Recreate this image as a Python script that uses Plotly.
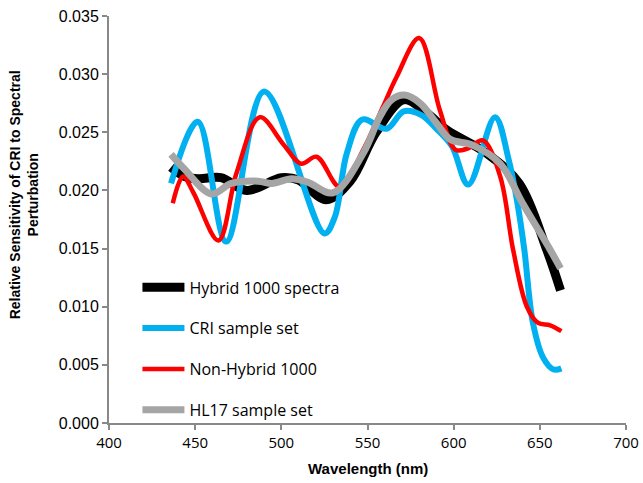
import plotly.graph_objects as go

# Wavelength (nm) / sensitivity values
hybrid_x = [436, 444, 452, 465, 480, 500, 510, 526, 540, 555, 571, 584, 596, 619, 638, 654, 662]
hybrid_y = [0.0220, 0.0212, 0.0210, 0.0211, 0.0200, 0.0211, 0.0209, 0.0192, 0.0208, 0.0250, 0.0278, 0.0267, 0.0252, 0.0232, 0.0206, 0.0149, 0.0114]

cri_x = [436, 451.5, 468, 490, 525, 531, 538, 547, 561, 571, 581, 590, 599, 608.5, 624, 632, 637, 641, 646, 652, 658, 662.5]
cri_y = [0.0206, 0.0259, 0.0156, 0.0285, 0.0163, 0.0177, 0.0232, 0.0261, 0.0253, 0.0268, 0.0265, 0.0253, 0.0238, 0.0205, 0.0263, 0.0226, 0.0189, 0.0149, 0.0086, 0.0056, 0.0046, 0.0047]

nonhybrid_x = [437, 443, 449, 463.5, 474, 487.5, 501, 511.5, 520.5, 534, 547.5, 559, 567, 580, 592, 601, 608, 617, 627, 634.5, 642.5, 649, 656, 662.5]
nonhybrid_y = [0.0189, 0.0212, 0.0198, 0.0157, 0.0215, 0.0263, 0.0240, 0.0223, 0.0229, 0.0203, 0.0235, 0.0272, 0.0298, 0.0331, 0.0269, 0.0235, 0.0236, 0.0243, 0.0212, 0.0149, 0.0100, 0.0086, 0.0084, 0.0079]

hl17_x = [436, 444, 459.5, 471, 486.5, 494.5, 506, 515.5, 530, 547.5, 557, 564, 571.5, 580.5, 590, 598, 611, 627, 640, 656, 662]
hl17_y = [0.0231, 0.0218, 0.0197, 0.0206, 0.0208, 0.0206, 0.0210, 0.0207, 0.0198, 0.0232, 0.0263, 0.0278, 0.0282, 0.0275, 0.0258, 0.0244, 0.0239, 0.0223, 0.0189, 0.0149, 0.0133]

series = [
    ("Hybrid 1000 spectra", hybrid_x, hybrid_y, "#000000", 9),
    ("CRI sample set", cri_x, cri_y, "#00B0F0", 6),
    ("Non-Hybrid 1000", nonhybrid_x, nonhybrid_y, "#FF0000", 4.5),
    ("HL17 sample set", hl17_x, hl17_y, "#A5A5A5", 7),
]

fig = go.Figure()
for i, (name, xs, ys, color, w) in enumerate(series):
    fig.add_trace(go.Scatter(
        x=xs, y=ys, name=name, mode="lines",
        line=dict(color=color, width=w, shape="spline", smoothing=1.0),
        legendgroup=f"g{i}",
    ))

axis_color = "#898989"
fig.update_layout(
    width=643, height=483,
    margin=dict(l=109, r=17, t=16, b=60),
    paper_bgcolor="white", plot_bgcolor="white",
    showlegend=True,
    legend=dict(
        x=0.055, y=0.375, xanchor="left", yanchor="top",
        bgcolor="rgba(0,0,0,0)",
        font=dict(family="Open Sans", size=16, color="#000000"),
        tracegroupgap=17,
        itemwidth=42,
    ),
    xaxis=dict(
        range=[400, 700], dtick=50, tick0=400, automargin=False,
        showline=True, linecolor=axis_color, linewidth=2,
        ticks="outside", ticklen=5, tickwidth=2, tickcolor=axis_color,
        showgrid=False, zeroline=False,
        tickfont=dict(family="Open Sans", size=15, color="#000000"),
    ),
    yaxis=dict(
        range=[0, 0.035], dtick=0.005, tick0=0, tickformat=".3f", automargin=False,
        showline=True, linecolor=axis_color, linewidth=2,
        ticks="outside", ticklen=5, tickwidth=2, tickcolor=axis_color,
        showgrid=False, zeroline=False,
        tickfont=dict(family="Arial", size=16, color="#000000"),
    ),
    annotations=[
        dict(text="<b>Wavelength (nm)</b>", xref="paper", yref="paper",
             x=0.5, y=-0.112, xanchor="center", yanchor="middle", showarrow=False,
             font=dict(family="Arial", size=15, color="#000000")),
        dict(text="<b>Relative Sensitivity of CRI to Spectral<br>Perturbation</b>",
             xref="paper", yref="paper", x=-0.164, y=0.56, xanchor="center", yanchor="middle",
             textangle=-90, showarrow=False,
             font=dict(family="Arial", size=14, color="#000000")),
    ],
)

fig.write_html("out.html")
